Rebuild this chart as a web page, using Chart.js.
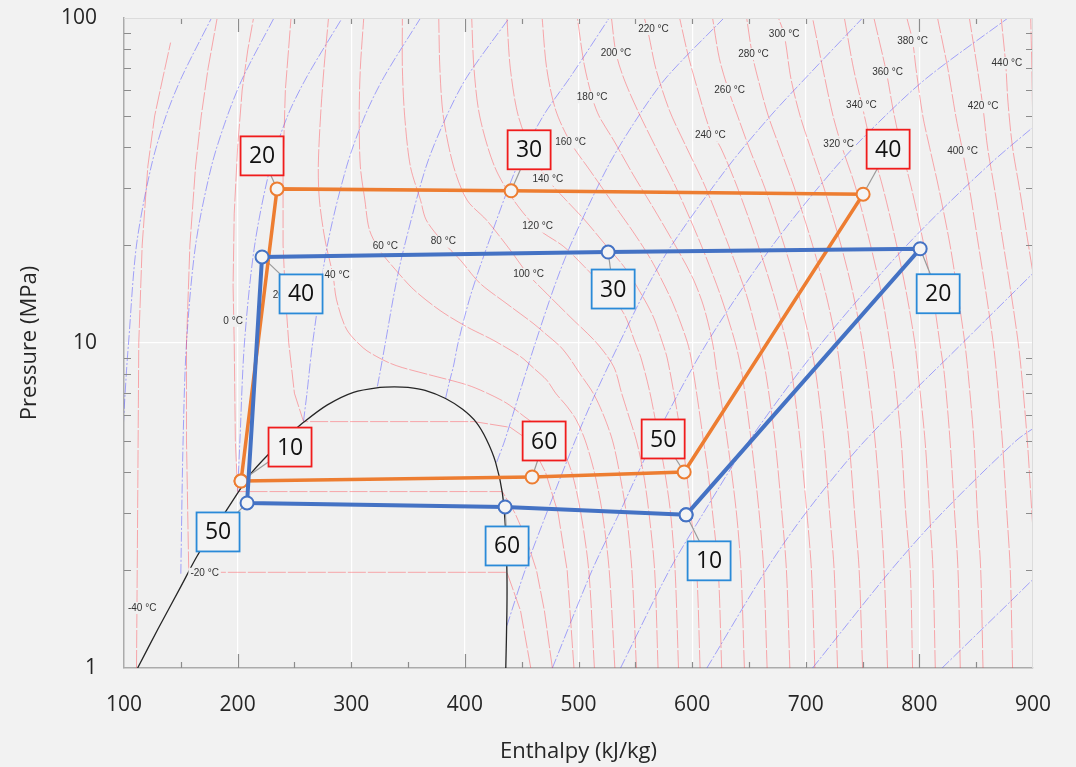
<!DOCTYPE html>
<html>
<head>
<meta charset="utf-8">
<script src="https://cdn.jsdelivr.net/npm/chart.js@4.4.1/dist/chart.umd.min.js"></script>
<style>
  html, body { margin: 0; padding: 0; background: #f2f2f2; }
  canvas { display: block; }
</style>
</head>
<body>
<canvas id="chart" width="1076" height="767"></canvas>
<script>
// ---- saturation dome, [h (kJ/kg), P (MPa)]
const dome = [[112,1.0],[130,1.32],[150,1.78],[164,2.2],[180,2.7],[190,3.05],[200,3.45],[210,3.9],[227,4.54],[245,5.2],
  [258,5.7],[279,6.45],[302,7.05],[325,7.3],[338,7.33],[350,7.3],[365,7.15],[383,6.75],[398,6.25],[410,5.7],
  [419,5.05],[427,4.3],[433,3.45],[436,2.6],[437,1.97],[437,1.5],[436,1.0]];

// ---- isotherms (red), [h, P]
const iso_m40 = [[111,1.0],[112,3],[113,10],[116,20],[121,35],[127,50],[134,65],[141,84]];
const iso_m20 = [[458,1.0],[449,1.5],[437,1.97],[157,1.97],[155,5],[155,10],[158,20],[163,35],[168,50],[174,70],[182,100]];
const iso_0 = [[477,1.0],[470,1.5],[463,2],[454,2.5],[444,3],[433,3.49],[200,3.49],[198,5],[197,10],[196,15],[197,25],[200,40],[204,60],[209,80],[214,100]];
const iso_20 = [[496,1.0],[490,2],[482,3],[471,4],[457,5],[440,5.5],[408,5.73],[258,5.73],[250,7],[245,10],[242,14],[240,20],[240,35],[242,60],[247,100]];
const iso_40 = [[514,1],[509,2],[502,3],[494,4],[484,4.8],[468,5.4],[452,5.95],[437,6.52],[420,7.0],[402,7.43],[369,7.98],[345,8.4],[334,8.67],[322,9.1],[311,9.63],[296,11.0],[287,13.6],[284,16.1],[277,20.7],[272,27.5],[271,35],[273,50],[276,70],[280,100]];
const iso_60 = [[532,1],[527,2],[521,3],[514,4],[506,5],[498,5.8],[490,6.37],[480,7],[472,7.69],[460,8.4],[449,9.08],[425,10.2],[402,11.2],[378,12.6],[355,14.6],[339,16.8],[325,19.3],[316,22.3],[312,27.5],[308,35],[307,50],[308,70],[311,100]];
const iso_80 = [[551,1],[547,2],[542,3],[536,4],[530,5],[522,6],[513,7],[501,8.07],[492,9],[484,9.75],[472,10.6],[460,11.5],[437,13.2],[413,15.3],[396,18.0],[381,20.4],[366,23.9],[361,27.5],[352,35],[347,50],[345,70],[345,100]];
const iso_100 = [[570,1],[567,2],[562,3],[557,4],[551,5],[544,6],[538,7],[531,8.45],[516,10],[493,12],[472,14.2],[456,16.2],[440,19.3],[419,23.9],[402,27.5],[390,35],[381,50],[378,70],[377,100]];
const iso_120 = [[588,1],[585,2],[581,3],[576,4],[571,5],[563,7],[555,9],[550,10],[540,12.3],[524,14.6],[505,17.2],[487,19.8],[464,22.5],[443,27.5],[426,35],[413,50],[408,70],[406,100]];
const iso_140 = [[607,1],[604,2],[599,3],[595,4],[591,5],[584,7],[578,9],[574,10],[566,12],[556,14],[541,17],[524,20],[505,24],[487,28],[473,31.8],[460,38],[447,50],[440,70],[437,100]];
const iso_160 = [[626,1],[623,2],[618,3],[614,4],[610,5],[604,7],[599,9],[596,10],[588,12],[580,14],[564,18],[548,22],[530,27],[510,34],[493,41.4],[480,52],[472,70],[468,100]];
const iso_180 = [[646,1],[643,2],[639,3],[631,5],[622,8],[618,10],[610,13],[600,16],[585,20],[566,26],[548,33],[531,42],[518,50],[512,57],[505,72],[499,100]];
const iso_200 = [[666,1],[663,2],[659,3],[652,5],[644,8],[638,10],[625,14],[608,20],[586,30],[568,40],[552,52],[540,65],[533,78],[529,100]];
const iso_220 = [[686,1],[683,2],[679,3],[673,5],[665,8],[659,10],[648,14],[632,20],[612,30],[595,40],[580,52],[568,70],[562,88],[558,100]];
const iso_240 = [[708,1],[705,2],[701,3],[695,5],[688,8],[683,10],[672,14],[658,20],[640,30],[625,40],[616,45],[605,60],[596,78],[589,100]];
const iso_260 = [[728,1],[725,2],[721,3],[716,5],[709,8],[704,10],[694,14],[681,20],[664,30],[650,40],[640,50],[632,60],[624,75],[618,100]];
const iso_280 = [[750,1],[747,2],[743,3],[738,5],[731,8],[727,10],[718,14],[706,20],[690,30],[677,40],[667,50],[658,65],[653,77],[648,100]];
const iso_300 = [[772,1],[769,2],[766,3],[761,5],[754,8],[750,10],[742,14],[731,20],[716,30],[704,40],[695,50],[687,65],[681,89],[676,100]];
const iso_320 = [[794,1],[792,2],[788,3],[784,5],[778,8],[774,10],[767,14],[757,20],[744,30],[732,40],[724,50],[715,70],[706,100]];
const iso_340 = [[814,1],[812,2],[809,3],[805,5],[799,8],[796,10],[789,14],[780,20],[768,30],[758,40],[750,53],[742,70],[734,100]];
const iso_360 = [[836,1],[834,2],[831,3],[827,5],[822,8],[818,10],[812,14],[804,20],[793,30],[784,40],[777,52],[771,68],[760,100]];
const iso_380 = [[856,1],[854,2],[851,3],[848,5],[843,8],[840,10],[834,14],[827,20],[817,30],[809,40],[803,50],[797,70],[794,85],[789,100]];
const iso_400 = [[882,1],[880,2],[877,3],[873,5],[868,8],[865,10],[859,14],[852,20],[844,30],[838,39],[832,50],[825,70],[816,100]];
const iso_420 = [[904,1],[902,2],[899,3],[895,5],[890,8],[887,10],[881,14],[874,20],[866,30],[860,40],[856,53],[851,70],[844,100]];
const iso_440 = [[926,1],[924,2],[921,3],[917,5],[912,8],[909,10],[903,14],[896,20],[888,30],[882,40],[878,55],[876,72],[872,100]];
const iso_460 = [[930,1],[925,5],[918,10],[908,20],[902,30],[900,45],[899,70],[898,100]];

// ---- isentropes (blue), [h, P]
const s_06 = [[98,1],[99,5],[102,8],[104,10],[111,20],[124,35],[137,50],[151,66],[177,100]];
const s_08 = [[150,1.95],[152,5],[155,10],[163,20],[177,35],[191,50],[205,66],[232,100]];
const s_10 = [[200,3.49],[202,5],[206,10],[215,20],[229,35],[244,50],[261,66],[292,100]];
const s_12 = [[258,5.75],[261,7],[266,10],[279,20],[296,35],[312,50],[329,66],[361,100]];
const s_14 = [[323,7.35],[325,8],[330,10],[339,15],[347,20],[366,35],[384,50],[402,66],[439,100]];
const s_16 = [[383,6.75],[386,7.5],[390,8.5],[394,10],[405,14],[420,20],[446,35],[469,50],[493,66],[527,100]];
const s_18 = [[428,4.3],[435,5],[448,7],[462,10],[479,15],[493,20],[526,35],[553,50],[578,66],[628,100]];
const s_20 = [[437,1.35],[453,2],[472,3],[497,5],[515,7],[536,10],[561,15],[582,20],[632,35],[669,50],[701,66],[750,100]];
const s_22 = [[477,1],[512,2],[536,3],[566,5],[613,10],[671,20],[727,35],[770,50],[808,66],[878,100]];
const s_24 = [[537,1],[580,2],[610,3],[650,5],[714,10],[789,20],[860,35],[912,50]];
const s_26 = [[613,1],[665,2],[700,3],[752,5],[838,10],[925,20]];
const s_28 = [[706,1],[775,2],[820,3],[885,5],[905,5.6]];
const s_30 = [[820,1],[880,1.6],[905,1.95]];

// ---- isotherm labels
const isoLabelText = ['-40 °C','-20 °C','0 °C','20 °C','40 °C','60 °C','80 °C','100 °C','120 °C','140 °C','160 °C','180 °C',
  '200 °C','220 °C','240 °C','260 °C','280 °C','300 °C','320 °C','340 °C','360 °C','380 °C','400 °C','420 °C','440 °C'];
const isoLabelH = [116,171,196,242,287.5,330,381,456,464,473,493,512,533,566,616,633,654,681,729,749,772,794,838,856,877];
const isoLabelP = [1.53,1.95,11.7,14.0,16.2,19.8,20.5,16.3,22.8,31.8,41.4,57,78,92.5,43.5,60,77.4,89.3,40.9,53.8,68,84.9,38.8,53.5,72.6];

// ---- the two cycles (points in path order)
const orangeNames = ['10','20','30','40','50','60'];
const orangeH = [203.0, 234.7, 440.7, 750.5, 593.0, 459.2];
const orangeP = [3.76, 29.8, 29.4, 28.7, 4.01, 3.87];
const blueNames = ['10','20','30','40','50','60'];
const blueH = [594.7, 800.7, 526.1, 221.5, 208.3, 435.4];
const blueP = [2.96, 19.5, 19.05, 18.4, 3.22, 3.13];

// label box offsets from their point, in pixels
const orangeBoxOffset = [[49,-34],[-15,-33],[18,-41],[25,-45],[-21,-33],[12,-36]];
const blueBoxOffset = [[23,46],[18,45],[5,37],[39,37],[-29,29],[2,39]];

const isotherms = [iso_m40, iso_m20, iso_0, iso_20, iso_40, iso_60, iso_80, iso_100, iso_120, iso_140, iso_160, iso_180,
  iso_200, iso_220, iso_240, iso_260, iso_280, iso_300, iso_320, iso_340, iso_360, iso_380, iso_400, iso_420, iso_440, iso_460];
const isentropes = [s_06, s_08, s_10, s_12, s_14, s_16, s_18, s_20, s_22, s_24, s_26, s_28, s_30];

const PLOT_BG = '#f0f0f0';
const toXY = arr => arr.map(([h, p]) => ({x: h, y: p}));
const cyclePts = (hs, ps) => hs.map((h, i) => ({x: h, y: ps[i]})).concat([{x: hs[0], y: ps[0]}]);

const datasets = [];
datasets.push({
    data: cyclePts(blueH, blueP), borderColor: '#4472c4', borderWidth: 4, tension: 0,
    pointRadius: 6.5, pointBorderWidth: 2, pointBackgroundColor: '#f4f4f4', pointBorderColor: '#4472c4',
    order: 0, isCycle: true
});
datasets.push({
    data: cyclePts(orangeH, orangeP), borderColor: '#ed7d31', borderWidth: 3.5, tension: 0,
    pointRadius: 6.5, pointBorderWidth: 2, pointBackgroundColor: '#f4f4f4', pointBorderColor: '#ed7d31',
    order: 1, isCycle: true
});
datasets.push({
    data: toXY(dome), borderColor: '#262626', borderWidth: 1.3, tension: 0.3, pointRadius: 0, order: 2
});
isotherms.forEach((line, i) => {
    datasets.push({
        data: toXY(line), borderColor: 'rgba(255,60,70,0.42)', borderWidth: 1, borderDash: [18, 2],
        tension: i <= 3 ? 0 : 0.3, pointRadius: 0, order: 3
    });
});
isentropes.forEach(line => {
    datasets.push({
        data: toXY(line), borderColor: 'rgba(80,80,255,0.5)', borderWidth: 1, borderDash: [10, 2, 2, 2],
        tension: 0.3, pointRadius: 0, order: 3
    });
});

const decorPlugin = {
    id: 'decor',
    beforeDraw(chart) {
        const {ctx, chartArea: a} = chart;
        chart.$labelsDone = false;
        ctx.save();
        ctx.fillStyle = '#f2f2f2';
        ctx.fillRect(0, 0, chart.width, chart.height);
        ctx.fillStyle = PLOT_BG;
        ctx.fillRect(a.left, a.top, a.right - a.left, a.bottom - a.top);
        ctx.restore();
    },
    beforeDatasetDraw(chart, args) {
        if (chart.$labelsDone || !chart.data.datasets[args.index].isCycle) return;
        chart.$labelsDone = true;
        const {ctx, scales: {x, y}} = chart;
        ctx.save();
        // isotherm labels sitting on their lines
        ctx.font = '10px "Liberation Sans", Arial, sans-serif';
        ctx.textAlign = 'center';
        ctx.textBaseline = 'middle';
        isoLabelText.forEach((t, i) => {
            const cx = x.getPixelForValue(isoLabelH[i]);
            const cy = y.getPixelForValue(isoLabelP[i]);
            const w = ctx.measureText(t).width;
            ctx.fillStyle = PLOT_BG;
            ctx.fillRect(cx - w / 2 - 2, cy - 6, w + 4, 12);
            ctx.fillStyle = '#333';
            ctx.fillText(t, cx, cy);
        });
        // leader lines from the label boxes to the points
        ctx.strokeStyle = '#9a9a9a';
        ctx.lineWidth = 1.2;
        const leaders = (hs, ps, offs) => hs.forEach((h, i) => {
            const px0 = x.getPixelForValue(h), py0 = y.getPixelForValue(ps[i]);
            ctx.beginPath();
            ctx.moveTo(px0 + offs[i][0], py0 + offs[i][1]);
            ctx.lineTo(px0, py0);
            ctx.stroke();
        });
        leaders(orangeH, orangeP, orangeBoxOffset);
        leaders(blueH, blueP, blueBoxOffset);
        ctx.restore();
    },
    afterDatasetsDraw(chart) {
        const {ctx, chartArea: a, scales: {x, y}} = chart;
        ctx.save();
        // inner tick marks on all four edges
        ctx.strokeStyle = '#8c8c8c';
        ctx.lineWidth = 1.2;
        ctx.beginPath();
        for (let v = 150; v <= 850; v += 50) {
            const len = (v === 200 || v === 400 || v === 800) ? 14 : 6;
            const xp = Math.round(x.getPixelForValue(v)) + 0.5;
            ctx.moveTo(xp, a.bottom); ctx.lineTo(xp, a.bottom - len);
            ctx.moveTo(xp, a.top); ctx.lineTo(xp, a.top + len);
        }
        [2,3,4,5,6,7,8,9,20,30,40,50,60,70,80,90].forEach(v => {
            const yp = Math.round(y.getPixelForValue(v)) + 0.5;
            ctx.moveTo(a.left, yp); ctx.lineTo(a.left + 7, yp);
            ctx.moveTo(a.right, yp); ctx.lineTo(a.right - 7, yp);
        });
        ctx.stroke();
        ctx.strokeStyle = '#dcdcdc';
        ctx.lineWidth = 1;
        ctx.beginPath();
        ctx.moveTo(a.left, a.top + 0.5); ctx.lineTo(a.right, a.top + 0.5);
        ctx.moveTo(a.right - 0.5, a.top); ctx.lineTo(a.right - 0.5, a.bottom);
        ctx.stroke();

        // numbered label boxes
        const boxes = (hs, ps, offs, names, color) => hs.forEach((h, i) => {
            const cx = x.getPixelForValue(h) + offs[i][0];
            const cy = y.getPixelForValue(ps[i]) + offs[i][1];
            ctx.fillStyle = '#f3f3f3';
            ctx.fillRect(cx - 21.5, cy - 19.5, 43, 39);
            ctx.strokeStyle = color;
            ctx.lineWidth = 1.8;
            ctx.strokeRect(cx - 21.5, cy - 19.5, 43, 39);
            ctx.fillStyle = '#111';
            ctx.font = '23px "Open Sans", sans-serif';
            ctx.textAlign = 'center';
            ctx.textBaseline = 'middle';
            ctx.fillText(names[i], cx, cy + 1);
        });
        boxes(orangeH, orangeP, orangeBoxOffset, orangeNames, '#f01c1c');
        boxes(blueH, blueP, blueBoxOffset, blueNames, '#2a8ad8');
        ctx.restore();
    }
};

const axisFont = {family: '"Open Sans", sans-serif', size: 21};
const titleFont = {family: '"Open Sans", sans-serif', size: 22};

new Chart(document.getElementById('chart'), {
    type: 'line',
    data: {datasets},
    options: {
        responsive: false,
        animation: false,
        events: [],
        layout: {padding: {top: 18, right: 43, left: 0, bottom: 0}},
        plugins: {legend: {display: false}, tooltip: {enabled: false}},
        scales: {
            x: {
                type: 'linear', min: 100, max: 900,
                ticks: {stepSize: 100, font: axisFont, color: '#262626', padding: 24, maxRotation: 0},
                grid: {
                    drawTicks: false, lineWidth: 1.2,
                    color: c => (c.tick && c.tick.value > 100 && c.tick.value < 900) ? 'rgba(255,255,255,0.95)' : 'rgba(0,0,0,0)'
                },
                border: {color: '#ababab', width: 1.5},
                title: {display: true, text: 'Enthalpy (kJ/kg)', font: titleFont, color: '#262626', padding: {top: 0, bottom: 2}},
                afterFit: s => { s.height = 99; }
            },
            y: {
                type: 'logarithmic', min: 1, max: 100,
                afterBuildTicks: s => { s.ticks = [1, 10, 100].map(v => ({value: v})); },
                ticks: {font: axisFont, color: '#262626', padding: 27, callback: v => String(v)},
                grid: {
                    drawTicks: false, lineWidth: 1.2,
                    color: c => (c.tick && c.tick.value === 10) ? 'rgba(255,255,255,0.95)' : 'rgba(0,0,0,0)'
                },
                border: {color: '#ababab', width: 1.5},
                title: {display: true, text: 'Pressure (MPa)', font: titleFont, color: '#262626', padding: {top: 17, bottom: 0}},
                afterFit: s => { s.width = 124; s.paddingTop = 0; s.paddingBottom = 0; }
            }
        }
    },
    plugins: [decorPlugin]
});
</script>
</body>
</html>
